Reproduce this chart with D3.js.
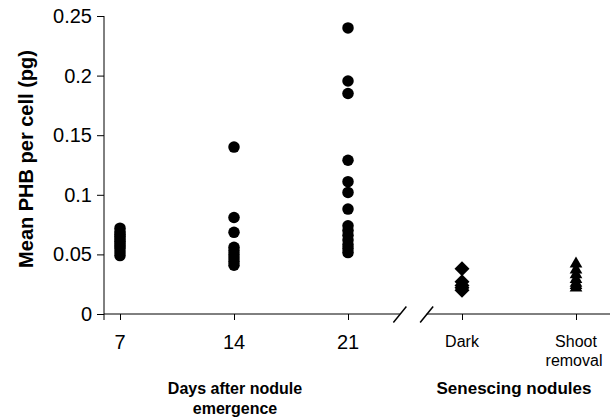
<!DOCTYPE html>
<html>
<head>
<meta charset="utf-8">
<script src="https://cdn.jsdelivr.net/npm/d3@7"></script>
<style>
  body { margin: 0; background: #fff; }
  svg { display: block; font-family: "Liberation Sans", Arial, sans-serif; }
</style>
</head>
<body>
<div id="chart"></div>
<script>
// categories along the x axis
const categories = ["7", "14", "21", "Dark", "Shoot removal"];
const yTicks = [0, 0.05, 0.1, 0.15, 0.2, 0.25];

// mean PHB per cell (pg)
const day7 = [0.072, 0.069, 0.067, 0.065, 0.063, 0.061, 0.059, 0.057, 0.055, 0.052, 0.049];
const day14 = [0.140, 0.081, 0.0685, 0.056, 0.053, 0.050, 0.047, 0.044, 0.041];
const day21 = [0.240, 0.1955, 0.185, 0.129, 0.111, 0.102, 0.088, 0.074, 0.070, 0.066, 0.062, 0.058, 0.055, 0.0515];
const dark = [0.038, 0.027, 0.024, 0.022, 0.020];
const shootRemoval = [0.042, 0.037, 0.033, 0.029, 0.026, 0.024, 0.022];

const width = 610, height = 419;

const svg = d3.select('#chart')
  .append('svg')
  .attr('width', width)
  .attr('height', height);

const x = d3.scalePoint()
  .domain(categories)
  .range([120, 576]);

const y = d3.scaleLinear()
  .domain([0, 0.25])
  .range([314, 16]);

const axisX = 104;

// y axis
const yAxis = svg.append('g')
  .attr('transform', `translate(${axisX},0)`)
  .call(d3.axisLeft(y).tickValues(yTicks).tickSize(7).tickPadding(5)
    .tickSizeOuter(0).tickFormat(d3.format('~g')));
yAxis.select('.domain').remove();
yAxis.append('line')
  .attr('x1', 0).attr('x2', 0)
  .attr('y1', y(0.25)).attr('y2', y(0) + 6)
  .attr('stroke', '#000');
yAxis.selectAll('text')
  .attr('fill', '#000')
  .style('font-size', '20px');

// x axis (ticks only, the line is drawn with a break)
const xAxis = svg.append('g')
  .attr('transform', `translate(0,${y(0)})`)
  .call(d3.axisBottom(x).tickSize(6).tickFormat(''));
xAxis.select('.domain').remove();

const step = x.step();
const breakA = x("21") + step * 0.455;
const breakB = x("21") + step * 0.69;

xAxis.append('line')
  .attr('x1', axisX).attr('x2', breakA)
  .attr('y1', 0).attr('y2', 0)
  .attr('stroke', '#000');
xAxis.append('line')
  .attr('x1', breakB).attr('x2', width)
  .attr('y1', 0).attr('y2', 0)
  .attr('stroke', '#000');

[breakA, breakB].forEach(bx => {
  xAxis.append('line')
    .attr('x1', bx - 6.5).attr('y1', 8.5)
    .attr('x2', bx + 6.5).attr('y2', -7.5)
    .attr('stroke', '#000')
    .attr('stroke-width', 1.5);
});

// tick labels
categories.forEach(c => {
  const big = !isNaN(+c);
  const lines = c === "Shoot removal" ? ["Shoot", "removal"] : [c];
  const t = svg.append('text')
    .attr('x', x(c))
    .attr('y', big ? 349 : 347)
    .attr('text-anchor', 'middle')
    .style('font-size', big ? '20px' : '16px');
  lines.forEach((l, i) => {
    t.append('tspan')
      .attr('x', x(c) - (i === 1 ? 2 : 0))
      .attr('dy', i === 0 ? 0 : 19)
      .text(l);
  });
});

// group labels
svg.append('text')
  .attr('x', x("14") + 1)
  .attr('y', 394)
  .attr('text-anchor', 'middle')
  .style('font-size', '16px')
  .style('font-weight', 'bold')
  .text('Days after nodule');
svg.append('text')
  .attr('x', x("14") + 1)
  .attr('y', 414)
  .attr('text-anchor', 'middle')
  .style('font-size', '16px')
  .style('font-weight', 'bold')
  .text('emergence');
svg.append('text')
  .attr('x', (x("Dark") + x("Shoot removal")) / 2 - 5)
  .attr('y', 394)
  .attr('text-anchor', 'middle')
  .style('font-size', '17px')
  .style('font-weight', 'bold')
  .text('Senescing nodules');

// y axis title
svg.append('text')
  .attr('transform', 'rotate(-90)')
  .attr('x', -159)
  .attr('y', 33)
  .attr('text-anchor', 'middle')
  .style('font-size', '20px')
  .style('font-weight', 'bold')
  .text('Mean PHB per cell (pg)');

// points
const circle = d3.symbol().type(d3.symbolCircle).size(104);
const diamond = d3.symbol().type(d3.symbolSquare).size(112);
const triangle = d3.symbol().type(d3.symbolTriangle).size(70);

function drawSeries(values, cat, sym, rot) {
  svg.append('g')
    .selectAll('path')
    .data(values)
    .join('path')
    .attr('d', sym)
    .attr('transform', d => `translate(${x(cat)},${y(d)})` + (rot ? ` rotate(${rot})` : ''))
    .attr('fill', '#000');
}

drawSeries(day7, "7", circle);
drawSeries(day14, "14", circle);
drawSeries(day21, "21", circle);
drawSeries(dark, "Dark", diamond, 45);
drawSeries(shootRemoval, "Shoot removal", triangle);
</script>
</body>
</html>
